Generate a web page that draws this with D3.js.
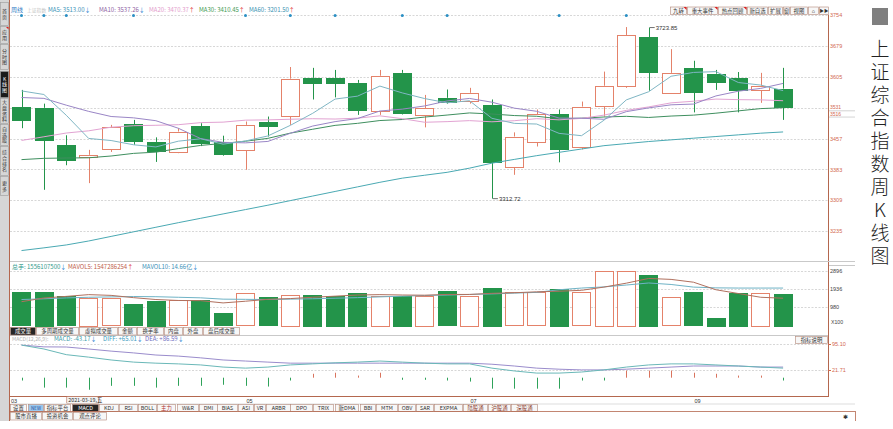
<!DOCTYPE html>
<html>
<head>
<meta charset="utf-8">
<script src="https://cdn.jsdelivr.net/npm/d3@7"></script>
<style>
  body { margin: 0; background: #fff; }
  svg { display: block; font-family: "Noto Sans CJK SC", "Noto Sans", sans-serif; }
</style>
</head>
<body>
<div id="chart"></div>
<script>
// Weekly bars of the Shanghai Composite, 2021-03-05 .. 2021-10-29
var weeks = ["2021-03-05","2021-03-12","2021-03-19","2021-03-26","2021-04-02","2021-04-09","2021-04-16",
  "2021-04-23","2021-04-30","2021-05-07","2021-05-14","2021-05-21","2021-05-28","2021-06-04","2021-06-11",
  "2021-06-18","2021-06-25","2021-07-02","2021-07-09","2021-07-16","2021-07-23","2021-07-30","2021-08-06",
  "2021-08-13","2021-08-20","2021-08-27","2021-09-03","2021-09-10","2021-09-17","2021-09-24","2021-09-30",
  "2021-10-08","2021-10-15","2021-10-22","2021-10-29"];
var openP  = [3533,3531,3441,3413,3430,3492,3449,3427,3487,3449,3429,3497,3512,3603,3603,3591,3524,3615,3512,3555,3548,3538,3390,3448,3515,3438,3536,3584,3701,3567,3627,3613,3603,3575,3577];
var highP  = [3574,3541,3465,3430,3490,3502,3460,3482,3494,3464,3498,3510,3629,3627,3622,3598,3622,3622,3562,3575,3579,3551,3472,3527,3527,3546,3618,3725,3723.85,3672,3644,3622,3617,3615,3627];
var lowP   = [3482,3334,3393,3350,3425,3442,3401,3422,3439,3416,3382,3462,3490,3551,3556,3514,3514,3515,3484,3541,3541,3312.72,3370,3438,3400,3431,3510,3579,3572,3567,3520,3574,3520,3543,3502];
var closeP = [3502,3453,3405,3418,3484,3451,3427,3474,3447,3419,3490,3487,3601,3592,3590,3525,3608,3519,3530,3546,3567,3400,3462,3515,3431,3534,3584,3706,3617,3615,3569,3593,3575,3584,3534];

var ma5  = [3571.6,3563.0,3513.0,3457.4,3452.4,3442.2,3437.0,3450.8,3456.6,3443.6,3451.4,3463.4,3488.8,3517.8,3552.0,3559.0,3583.2,3566.8,3553.2,3543.0,3548.0,3505.8,3493.6,3492.0,3469.6,3464.0,3501.0,3550.0,3569.6,3606.8,3616.0,3618.0,3591.8,3585.6,3572.4];
var ma10 = [3555.7,3553.7,3537.3,3522.4,3510.1,3506.9,3500.0,3481.9,3457.0,3448.0,3446.8,3450.2,3469.8,3487.2,3497.8,3505.2,3523.3,3527.8,3535.5,3547.5,3553.5,3544.5,3530.2,3522.6,3506.3,3506.0,3503.4,3521.8,3530.8,3538.2,3540.0,3559.5,3570.9,3577.6,3589.6];
var ma20 = [3452.6,3461.4,3470.4,3475.7,3484.4,3488.0,3489.0,3490.4,3495.4,3496.6,3501.3,3502.0,3503.5,3504.8,3504.0,3506.1,3511.7,3504.9,3496.3,3497.8,3500.2,3497.4,3500.0,3504.9,3502.1,3505.6,3513.4,3524.8,3533.2,3542.9,3546.8,3552.0,3550.6,3550.1,3548.0];
var ma30 = [3406.5,3409.6,3410.4,3410.9,3415.2,3421.5,3424.5,3433.0,3440.6,3445.5,3450.7,3457.6,3470.2,3479.5,3488.8,3493.7,3500.4,3502.9,3508.8,3513.6,3518.7,3516.1,3512.4,3510.7,3504.7,3506.0,3508.9,3510.5,3507.8,3511.2,3513.4,3518.1,3523.6,3529.1,3531.2];
var ma60 = [3188,3194.5,3201.5,3211,3222,3233,3244,3255,3265.5,3276,3286.5,3297,3308,3319,3330,3341,3352,3362,3369,3376,3386,3398,3407,3416,3424,3432,3440,3445,3450,3454,3458,3462,3466,3470,3473];

// volume, millions of shares
var volume  = [1764,1796,1556,1477,1445,1127,1302,1355,1355,648,1711,1499,1637,1621,1568,1727,1568,1568,1568,1833,1568,1993,1780,1780,1940,1780,2896,2900,2684,1514,1780,399,1727,1727,1674];
var mavol5  = [1265,1461,1547,1640,1600,1480,1380,1330,1320,1200,1290,1390,1430,1500,1560,1620,1640,1620,1610,1650,1650,1710,1740,1790,1820,1870,2040,2250,2500,2450,2300,1900,1700,1500,1450];
var mavol10 = [1380,1420,1466,1500,1520,1540,1530,1500,1470,1400,1390,1380,1400,1420,1450,1480,1520,1560,1590,1620,1650,1680,1720,1760,1900,1990,2050,2150,2260,2180,2040,2000,1990,1990,1990];

// MACD(12,26,9)
var diffV = [92,81,65,58,50,44,41,39,36,30,27,30,36,39,42,44,47,44,41,39,39,27,19,13,13,16,22,30,36,39,39,36,33,30,27];
var deaV  = [92,87,86.59,81,75,70,64,61,56,50,47,44,41,41,41,41,41,41,41,41,41,38,33,27,24,22,22,24,27,30,33,33,33,30,30];
var macdV = [-8,-28,-28,-34,-23,-23,-28,-23,-23,-20,-23,-25,-8,11,14,6,14,-6,-6,-8,-11,-31,-31,-31,-31,-8,-8,20,20,20,14,11,6,6,-8];

var priceTicks = [3754, 3679, 3605, 3531, 3457, 3383, 3309, 3235];
var volTicks = [2896, 1936, 980];
var macdTicks = [95.10, 21.71];
var monthLabels = ["03", "05", "07", "09"];
var monthWeeks = ["2021-03-05", "2021-05-14", "2021-07-23", "2021-09-30"];
var markerWeeks = ["2021-03-05","2021-03-12","2021-03-19","2021-04-09","2021-05-14","2021-05-28","2021-06-11","2021-07-02","2021-07-16","2021-08-20","2021-09-10"];
var caption = "上证综合指数周K线图";

var UP = "#e4826a", DOWN = "#23944a", FRAME = "#b4674e", AXISTXT = "#d2694f", GRID = "#cdcdcd";
var NUMFONT = "Liberation Sans, Arial, sans-serif";

var svg = d3.select("#chart")
    .append("svg")
    .attr("width", 893)
    .attr("height", 429);

// Scales
var x = d3.scaleBand().domain(weeks).range([10.3, 794.3]).paddingInner(0.17).paddingOuter(0.085);
var cx = function(w) { return x(w) + x.bandwidth() / 2; };
var yPrice = d3.scaleLinear().domain([3235, 3754]).range([231, 15]);
var yVol = d3.scaleLinear().domain([0, 2896]).range([325.5, 271]);
var yMacd = d3.scaleLinear().domain([21.71, 95.10]).range([370, 344]);

var bars = weeks.map(function(w, i) {
    return { w: w, o: openP[i], h: highP[i], l: lowP[i], c: closeP[i], v: volume[i], m: macdV[i], up: closeP[i] >= openP[i] };
});

// ---------- left side bar ----------
var side = svg.append("g");
side.append("rect").attr("x", 0).attr("y", 0).attr("width", 9).attr("height", 421).attr("fill", "#d6d6d6");
var sideTabs = [
    { t: "首页", y0: 2, y1: 26 }, { t: "应用", y0: 26, y1: 44 }, { t: "分时图", y0: 44, y1: 70 },
    { t: "K线图", y0: 71, y1: 98, sel: true }, { t: "大盘资料", y0: 98, y1: 124 }, { t: "自选股", y0: 124, y1: 146 },
    { t: "综合排名", y0: 146, y1: 176 }, { t: "更多", y0: 176, y1: 196 }
];
sideTabs.forEach(function(tb) {
    side.append("rect").attr("x", 0.5).attr("y", tb.y0 + 0.5).attr("width", 8).attr("height", tb.y1 - tb.y0 - 1)
        .attr("fill", tb.sel ? "#1b1b1b" : "#d6d6d6").attr("stroke", "#9a9a9a").attr("stroke-width", 0.6);
    var chars = Array.from(tb.t);
    var step = 5.6, start = (tb.y0 + tb.y1) / 2 - (chars.length - 1) * step / 2;
    var t = side.append("text").attr("text-anchor", "middle").attr("font-size", 5).attr("fill", tb.sel ? "#fff" : "#333");
    chars.forEach(function(ch, k) {
        t.append("tspan").attr("x", 4.5).attr("y", start + k * step + 1.8).text(ch);
    });
});
side.append("path").attr("d", "M6,27 L8.5,27 L8.5,29.5 Z").attr("fill", "#d22");

// ---------- frame lines ----------
svg.append("line").attr("x1", 9.5).attr("x2", 9.5).attr("y1", 0).attr("y2", 421).attr("stroke", FRAME).attr("stroke-width", 1);
svg.append("line").attr("x1", 828.5).attr("x2", 828.5).attr("y1", 7).attr("y2", 397).attr("stroke", FRAME).attr("stroke-width", 1);
svg.append("line").attr("x1", 10).attr("x2", 855).attr("y1", 261.5).attr("y2", 261.5).attr("stroke", "#c9c9c9").attr("stroke-width", 1.2);
svg.append("line").attr("x1", 10).attr("x2", 828).attr("y1", 335.5).attr("y2", 335.5).attr("stroke", "#c9c9c9").attr("stroke-width", 1);
svg.append("line").attr("x1", 10).attr("x2", 829).attr("y1", 396.5).attr("y2", 396.5).attr("stroke", FRAME).attr("stroke-width", 1);

// ---------- price panel ----------
var price = svg.append("g");

// grid
price.selectAll("line.grid").data(priceTicks).enter().append("line")
    .attr("x1", 10).attr("x2", 828).attr("y1", d => Math.round(yPrice(d)) + 0.5).attr("y2", d => Math.round(yPrice(d)) + 0.5)
    .attr("stroke", GRID).attr("stroke-dasharray", "2,1.5").attr("stroke-width", 0.8);

// right axis labels
var rightAxis = d3.axisRight(yPrice).tickValues(priceTicks).tickSize(0).tickPadding(2).tickFormat(d3.format("d"));
var ra = price.append("g").attr("transform", "translate(828,0)").call(rightAxis);
ra.select(".domain").remove();
ra.selectAll("text").attr("fill", AXISTXT).attr("font-size", 5.5).attr("font-family", NUMFONT);
ra.selectAll(".tick").filter(d => d === 3531).select("text").attr("dy", "0.1em").attr("font-size", 5);
price.append("text").attr("x", 830).attr("y", yPrice(3516) + 2.4).attr("font-size", 5).attr("fill", AXISTXT)
    .attr("font-family", NUMFONT).text("3516");
[3531, 3516].forEach(function(v) {
    price.append("line").attr("x1", 829).attr("x2", 855).attr("y1", yPrice(v) + 3).attr("y2", yPrice(v) + 3)
        .attr("stroke", "#c8c8c8").attr("stroke-width", 0.8);
});

// info markers on top grid line
price.selectAll("circle.mark").data(markerWeeks).enter().append("circle")
    .attr("cx", d => cx(d)).attr("cy", yPrice(3754) + 0.6).attr("r", 1.5).attr("fill", "#2a8fc4");

// candles: wicks, then bodies
var candle = price.append("g");
bars.forEach(function(d) {
    var xc = Math.round(cx(d.w)) + 0.5;
    var col = d.up ? UP : DOWN;
    var top = yPrice(Math.max(d.o, d.c)), bot = yPrice(Math.min(d.o, d.c));
    candle.append("line").attr("x1", xc).attr("x2", xc).attr("y1", yPrice(d.h)).attr("y2", top).attr("stroke", col).attr("stroke-width", 1);
    candle.append("line").attr("x1", xc).attr("x2", xc).attr("y1", bot).attr("y2", yPrice(d.l)).attr("stroke", col).attr("stroke-width", 1);
});
candle.selectAll("rect").data(bars).enter().append("rect")
    .attr("x", d => Math.round(x(d.w)) + 0.5)
    .attr("y", d => Math.round(yPrice(Math.max(d.o, d.c))) + 0.5)
    .attr("width", Math.round(x.bandwidth()) - 1)
    .attr("height", d => Math.max(1, Math.round(Math.abs(yPrice(d.o) - yPrice(d.c)))))
    .attr("fill", d => d.up ? "#fff" : DOWN)
    .attr("stroke", d => d.up ? UP : DOWN)
    .attr("stroke-width", 1);

// moving averages
var maSeries = [
    { v: ma60, c: "#4aa9b3" }, { v: ma30, c: "#3f8f5f" }, { v: ma20, c: "#e2a3d2" },
    { v: ma10, c: "#9a86c6" }, { v: ma5, c: "#7fb6c4" }
];
var maLine = d3.line().x((d, i) => cx(weeks[i])).y(d => yPrice(d));
maSeries.forEach(function(s) {
    price.append("path").attr("d", maLine(s.v)).attr("fill", "none").attr("stroke", s.c).attr("stroke-width", 1);
});

// high / low notes
function note(w, v, label) {
    var xx = cx(w), yy = yPrice(v);
    price.append("line").attr("x1", xx + 1).attr("x2", xx + 6).attr("y1", yy).attr("y2", yy).attr("stroke", "#333").attr("stroke-width", 0.7);
    price.append("text").attr("x", xx + 7).attr("y", yy).attr("dy", "0.35em").attr("font-size", 6)
        .attr("fill", "#333").attr("font-family", NUMFONT).text(label);
}
note("2021-09-17", 3723.85, "3723.85");
note("2021-07-30", 3312.72, "3312.72");

// legend rows
function legendRow(items, y) {
    items.forEach(function(it) {
        var t = svg.append("text").attr("x", it.x).attr("y", y).attr("font-size", it.fs || 6).attr("fill", it.c).text(it.t);
        if (it.a) t.append("tspan").attr("fill", it.a === "↑" ? "#e03030" : "#2a7fd0").text(it.a);
    });
}
legendRow([
    { t: "周线", x: 11, c: "#2c78c4" }, { t: "上证指数", x: 27, c: "#c4c4c4", fs: 4.8 },
    { t: "MA5: 3513.00", a: "↓", x: 48, c: "#3d94b8" }, { t: "MA10: 3537.26", a: "↓", x: 99, c: "#8f5fa3" },
    { t: "MA20: 3470.37", a: "↑", x: 149, c: "#e39ccc" }, { t: "MA30: 3410.45", a: "↑", x: 199, c: "#3f9a52" },
    { t: "MA60: 3201.50", a: "↑", x: 249, c: "#3a92b2" }
], 11.5);

// button rows
function buttonRow(items, y0, h) {
    items.forEach(function(b) {
        svg.append("rect").attr("x", b.x0 + 0.5).attr("y", y0 + 0.5).attr("width", b.x1 - b.x0).attr("height", h)
            .attr("fill", b.sel ? "#262626" : (b.bg || "#f7f7f7")).attr("stroke", "#b38878").attr("stroke-width", 0.6);
        svg.append("text").attr("x", (b.x0 + b.x1) / 2 + 0.5).attr("y", y0 + h / 2 + 0.5).attr("dy", "0.36em")
            .attr("text-anchor", "middle").attr("font-size", b.fs || 5.4)
            .attr("fill", b.sel ? "#fff" : (b.c || "#333")).text(b.t);
        if (b.flag) svg.append("path").attr("d", `M${b.x1 - 2.5},${y0 + 0.5} L${b.x1 + 0.5},${y0 + 0.5} L${b.x1 + 0.5},${y0 + 3.5} Z`).attr("fill", "#d22");
    });
}
svg.append("rect").attr("x", 669).attr("y", 5).attr("width", 160).attr("height", 9.5).attr("fill", "#fff");
buttonRow([
    { t: "九转", x0: 670, x1: 686, flag: true }, { t: "重大事件", x0: 687, x1: 717, flag: true },
    { t: "热点回顾", x0: 718, x1: 746, flag: true }, { t: "新自选", x0: 747, x1: 767 },
    { t: "扩展", x0: 768, x1: 782 }, { t: "窗", x0: 783, x1: 789 }, { t: "视图", x0: 790, x1: 807 },
    { t: "⌂", x0: 808, x1: 818 }, { t: "▶▶", x0: 819, x1: 828, fs: 4.5 }
], 6.5, 7.5);

// ---------- volume panel ----------
var vol = svg.append("g");
vol.selectAll("line.vgrid").data(volTicks).enter().append("line")
    .attr("x1", 10).attr("x2", 828).attr("y1", d => Math.round(yVol(d)) + 0.5).attr("y2", d => Math.round(yVol(d)) + 0.5)
    .attr("stroke", GRID).attr("stroke-dasharray", "2,1.5").attr("stroke-width", 0.8);
var volAxis = d3.axisRight(yVol).tickValues(volTicks).tickSize(0).tickPadding(2).tickFormat(d3.format("d"));
var va = vol.append("g").attr("transform", "translate(828,0)").call(volAxis);
va.select(".domain").remove();
va.selectAll("text").attr("fill", "#444").attr("font-size", 5.5).attr("font-family", NUMFONT);
vol.append("text").attr("x", 831).attr("y", 324).attr("font-size", 5.2).attr("fill", "#444")
    .attr("font-family", NUMFONT).text("X100");
vol.append("line").attr("x1", 829).attr("x2", 855).attr("y1", 265.5).attr("y2", 265.5).attr("stroke", "#c8c8c8");

vol.selectAll("rect").data(bars).enter().append("rect")
    .attr("x", d => Math.round(x(d.w)) + 0.5)
    .attr("y", d => Math.round(yVol(d.v)) + 0.5)
    .attr("width", Math.round(x.bandwidth()) - 1)
    .attr("height", d => Math.round(yVol(0) - yVol(d.v)))
    .attr("fill", d => d.up ? "#fff" : DOWN)
    .attr("stroke", d => d.up ? UP : DOWN)
    .attr("stroke-width", 1);

var volLine = d3.line().x((d, i) => cx(weeks[i])).y(d => yVol(d));
vol.append("path").attr("d", volLine(mavol10)).attr("fill", "none").attr("stroke", "#6fb3c6").attr("stroke-width", 1);
vol.append("path").attr("d", volLine(mavol5)).attr("fill", "none").attr("stroke", "#b0705e").attr("stroke-width", 1);

legendRow([
    { t: "总手: 1556107500", a: "↓", x: 12, c: "#2f9a8c" },
    { t: "MAVOL5: 1547286254", a: "↑", x: 68, c: "#c0604a" },
    { t: "MAVOL10: 14.66亿", a: "↓", x: 142, c: "#3a90b8" }
], 268.5);

buttonRow([
    { t: "成交量", x0: 10, x1: 35, sel: true }, { t: "多周期成交量", x0: 36, x1: 78 }, { t: "虚拟成交量", x0: 79, x1: 117 },
    { t: "金额", x0: 118, x1: 136 }, { t: "换手率", x0: 137, x1: 163 }, { t: "内盘", x0: 164, x1: 182 },
    { t: "外盘", x0: 183, x1: 202 }, { t: "盘后成交量", x0: 203, x1: 239 }
], 327, 7.5);

// ---------- MACD panel ----------
var mg = svg.append("g");
mg.selectAll("line.mgrid").data(macdTicks).enter().append("line")
    .attr("x1", 10).attr("x2", 828).attr("y1", d => Math.round(yMacd(d)) + 0.5).attr("y2", d => Math.round(yMacd(d)) + 0.5)
    .attr("stroke", GRID).attr("stroke-dasharray", "2,1.5").attr("stroke-width", 0.8);
var macdAxis = d3.axisRight(yMacd).tickValues(macdTicks).tickSize(3).tickPadding(1).tickFormat(d3.format(".2f"));
var mAx = mg.append("g").attr("transform", "translate(828,0)").call(macdAxis);
mAx.select(".domain").remove();
mAx.selectAll("line").attr("stroke", AXISTXT);
mAx.selectAll("text").attr("fill", AXISTXT).attr("font-size", 5.5).attr("font-family", NUMFONT);

mg.selectAll("line.hist").data(bars).enter().append("line")
    .attr("x1", d => Math.round(cx(d.w)) + 0.5).attr("x2", d => Math.round(cx(d.w)) + 0.5)
    .attr("y1", yMacd(0)).attr("y2", d => yMacd(d.m))
    .attr("stroke", d => d.m >= 0 ? "#d9735d" : "#2fa25a").attr("stroke-width", 1);

var macdLine = d3.line().x((d, i) => cx(weeks[i])).y(d => yMacd(d));
mg.append("path").attr("d", macdLine(deaV)).attr("fill", "none").attr("stroke", "#9a8ccc").attr("stroke-width", 1);
mg.append("path").attr("d", macdLine(diffV)).attr("fill", "none").attr("stroke", "#6ab8b8").attr("stroke-width", 1);

legendRow([
    { t: "MACD(12,26,9):", x: 12, c: "#b4b4b4", fs: 5.2 }, { t: "MACD: -43.17", a: "↓", x: 54, c: "#3a9aa8" },
    { t: "DIFF: +65.01", a: "↓", x: 103, c: "#3c9cc0" }, { t: "DEA: +86.59", a: "↓", x: 145, c: "#6f6cc0" }
], 341);

buttonRow([{ t: "指标说明", x0: 795, x1: 827 }], 336, 7);

// ---------- date axis ----------
monthWeeks.forEach(function(w, k) {
    var xx = k === 0 ? 11 : cx(w) + 1;
    svg.append("text").attr("x", xx).attr("y", 402.5).attr("font-size", 5.5).attr("fill", "#333")
        .attr("font-family", NUMFONT).text(monthLabels[k]);
});
svg.append("rect").attr("x", cx("2021-03-19") + 0.5).attr("y", 396.5).attr("width", 32).attr("height", 7)
    .attr("fill", "#f4f4f4").attr("stroke", FRAME).attr("stroke-width", 0.6);
svg.append("text").attr("x", cx("2021-03-19") + 2).attr("y", 402.3).attr("font-size", 5.3).attr("fill", "#333").text("2021-03-19,五");

// ---------- bottom tab rows ----------
svg.append("line").attr("x1", 10).attr("x2", 855).attr("y1", 404).attr("y2", 404).attr("stroke", "#ddd");
buttonRow([
    { t: "设置", x0: 10, x1: 26 }, { t: "NEW", x0: 28, x1: 43, bg: "#9cc8ee", c: "#1f4f9a", fs: 4.6 }, { t: "指标平台", x0: 44, x1: 70 },
    { t: "MACD", x0: 72, x1: 98, sel: true }, { t: "KDJ", x0: 99, x1: 118 }, { t: "RSI", x0: 119, x1: 137 },
    { t: "BOLL", x0: 138, x1: 156 }, { t: "主力", x0: 157, x1: 175, c: "#b03030" }, { t: "W&R", x0: 177, x1: 198 },
    { t: "DMI", x0: 199, x1: 217 }, { t: "BIAS", x0: 217, x1: 237 }, { t: "ASI", x0: 238, x1: 253 },
    { t: "VR", x0: 254, x1: 265 }, { t: "ARBR", x0: 266, x1: 290 }, { t: "DPO", x0: 290, x1: 312 },
    { t: "TRIX", x0: 313, x1: 333 }, { t: "新DMA", x0: 335, x1: 358 }, { t: "BBI", x0: 360, x1: 375 },
    { t: "MTM", x0: 376, x1: 397 }, { t: "OBV", x0: 398, x1: 415 }, { t: "SAR", x0: 416, x1: 433 },
    { t: "EXPMA", x0: 434, x1: 462 }, { t: "陆股通", x0: 463, x1: 487, c: "#8a3a2a" },
    { t: "沪股通", x0: 488, x1: 510, c: "#8a3a2a" }, { t: "深股通", x0: 511, x1: 537, c: "#8a3a2a" }
], 404, 7);
svg.append("line").attr("x1", 10).attr("x2", 855).attr("y1", 411.5).attr("y2", 411.5).attr("stroke", FRAME).attr("stroke-width", 0.8);
svg.append("line").attr("x1", 855.5).attr("x2", 855.5).attr("y1", 411).attr("y2", 421).attr("stroke", FRAME).attr("stroke-width", 0.8);
buttonRow([
    { t: "股市直播", x0: 10, x1: 41 }, { t: "投资机会", x0: 42, x1: 72 }, { t: "观点评论", x0: 73, x1: 106 }
], 412, 7.5);
svg.append("text").attr("x", 845).attr("y", 418.5).attr("font-size", 6).attr("text-anchor", "middle").attr("fill", "#333").text("✱");

// ---------- caption (vertical) ----------
svg.append("rect").attr("x", 872).attr("y", 8).attr("width", 16).attr("height", 17).attr("fill", "#7f7f7f");
svg.append("text")
    .attr("x", 880).attr("y", 39.5)
    .style("writing-mode", "vertical-rl")
    .style("text-orientation", "upright")
    .attr("font-size", 19).attr("font-weight", 300).attr("letter-spacing", 4)
    .attr("fill", "#222")
    .text(caption);
</script>
</body>
</html>
